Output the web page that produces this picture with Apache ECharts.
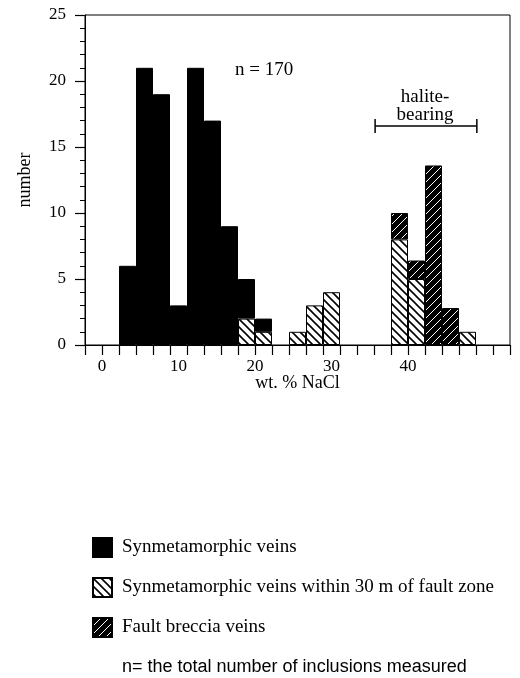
<!DOCTYPE html>
<html>
<head>
<meta charset="utf-8">
<script src="https://cdn.jsdelivr.net/npm/echarts@6/dist/echarts.min.js"></script>
<style>
html,body{margin:0;padding:0;background:#fff;}
#chart{width:520px;height:678px;}
</style>
</head>
<body>
<div id="chart"></div>
<script>
// Bin lower edges (wt. % NaCl), each bin 20/9 wt.% wide
const binStarts = ['-2.2','0.0','2.2','4.4','6.7','8.9','11.1','13.3','15.6','17.8','20.0','22.2','24.4','26.7','28.9','31.1','33.3','35.6','37.8','40.0','42.2','44.4','46.7','48.9','51.1'];
const synmetamorphic = [null,null,6,21,19,3,21,17,9,3,1,null,null,null,null,null,null,null,null,null,null,null,null,null,null];
const nearFault = [null,null,null,null,null,null,null,null,null,2,1,null,1,3,4,null,null,null,8,5,null,null,1,null,null];
const faultBreccia = [null,null,null,null,null,null,null,null,null,null,null,null,null,null,null,null,null,null,2,1.4,13.6,2.8,null,null,null];
const xTickLabels = [0,10,20,30,40];
const yTicks = [0,25,5];
const haliteRange = [35.7, 49.0];
const haliteLevel = 16.6;

const seriesNames = ['Synmetamorphic veins','Synmetamorphic veins within 30 m of fault zone','Fault breccia veins'];

function hatch(bg, fg, dir, size, lw) {
  const c = document.createElement('canvas');
  c.width = size; c.height = size;
  const g = c.getContext('2d');
  g.fillStyle = bg; g.fillRect(0,0,size,size);
  g.strokeStyle = fg; g.lineWidth = lw;
  g.beginPath();
  if (dir === 'back') {
    g.moveTo(-1,-1); g.lineTo(size+1,size+1);
    g.moveTo(-2,size-2); g.lineTo(2,size+2);
    g.moveTo(size-2,-2); g.lineTo(size+2,2);
  } else {
    g.moveTo(-1,size+1); g.lineTo(size+1,-1);
    g.moveTo(-2,2); g.lineTo(2,-2);
    g.moveTo(size-2,size+2); g.lineTo(size+2,size-2);
  }
  g.stroke();
  return {image: c, repeat: 'repeat'};
}
const hatchWhite = hatch('#fff','#000','back',8,1.6);
const hatchBlack = hatch('#000','#fff','fwd',8,1.0);

const serif = 'Liberation Serif';
const chart = echarts.init(document.getElementById('chart'), null, {renderer:'canvas'});
chart.setOption({
  animation: false,
  backgroundColor: '#fff',
  grid: {left: 85, right: 10, top: 15, bottom: 333, show: true, borderColor: '#000', borderWidth: 1, containLabel: false},
  legend: {
    orient: 'vertical', left: 92, top: 537, padding: 0,
    data: seriesNames,
    icon: 'rect', itemWidth: 19, itemHeight: 19, itemGap: 19,
    textStyle: {fontFamily: serif, fontSize: 19, color: '#000', padding: [0,0,0,5]},
    selectedMode: false
  },
  xAxis: [{
    type: 'category', data: binStarts, position: 'bottom',
    axisLine: {onZero: false, lineStyle: {color: '#000', width: 1}},
    axisTick: {show: true, interval: 0, length: 10, lineStyle: {color: '#000', width: 1.2}},
    axisLabel: {show: false},
    splitLine: {show: false}
  }, {
    type: 'value', position: 'bottom', min: -20/9, max: 480/9,
    axisLine: {show: false, onZero: false}, axisTick: {show: false}, splitLine: {show: false},
    axisLabel: {customValues: xTickLabels, margin: 13, fontFamily: serif, fontSize: 17, color: '#000'},
    name: 'wt. % NaCl', nameLocation: 'middle', nameGap: 29, nameMoveOverlap: false,
    nameTextStyle: {fontFamily: serif, fontSize: 18, color: '#000'}
  }],
  yAxis: {
    type: 'value', min: yTicks[0], max: yTicks[1], interval: yTicks[2],
    axisLine: {show: true, onZero: false, lineStyle: {color: '#000', width: 1}},
    axisTick: {show: true, length: 10, lineStyle: {color: '#000', width: 1.2}},
    minorTick: {show: true, splitNumber: 5, length: 5, lineStyle: {color: '#000', width: 1}},
    axisLabel: {margin: 19, fontFamily: serif, fontSize: 17, color: '#000'},
    splitLine: {show: false},
    name: 'number', nameLocation: 'middle', nameGap: 51,
    nameTextStyle: {fontFamily: serif, fontSize: 18, color: '#000'}
  },
  series: [{
    name: seriesNames[1], type: 'bar', stack: 'all', data: nearFault,
    barCategoryGap: '0%',
    itemStyle: {color: hatchWhite, borderColor: '#000', borderWidth: 1}
  }, {
    name: seriesNames[0], type: 'bar', stack: 'all', data: synmetamorphic,
    barCategoryGap: '0%',
    itemStyle: {color: '#000', borderColor: '#000', borderWidth: 1}
  }, {
    name: seriesNames[2], type: 'bar', stack: 'all', data: faultBreccia,
    barCategoryGap: '0%',
    itemStyle: {color: hatchBlack, borderColor: '#000', borderWidth: 1}
  }, {
    name: 'halite-bearing', type: 'line', xAxisIndex: 1, yAxisIndex: 0,
    data: [[haliteRange[0], haliteLevel],[haliteRange[1], haliteLevel]],
    symbol: 'rect', symbolSize: [1.5, 14], silent: true,
    lineStyle: {color: '#000', width: 1.5}, itemStyle: {color: '#000'}
  }],
  graphic: [
    {type: 'text', left: 235, top: 61, style: {text: 'n = 170', font: '19px "Liberation Serif"', fill: '#000'}},
    {type: 'text', x: 425, y: 88, style: {text: 'halite-\nbearing', font: '19px "Liberation Serif"', fill: '#000', align: 'center', lineHeight: 18}},
    {type: 'text', left: 122, top: 658, style: {text: 'n= the total number of inclusions measured', font: '18px "Liberation Sans"', fill: '#000'}}
  ]
});
</script>
</body>
</html>
